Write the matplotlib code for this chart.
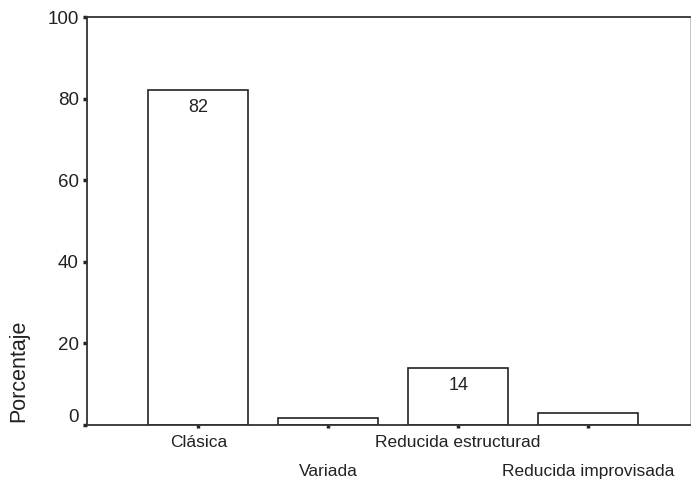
import matplotlib.pyplot as plt
import matplotlib.transforms as mtransforms
import numpy as np

categories = ['Clásica', 'Variada', 'Reducida estructurad', 'Reducida improvisada']
values = [82, 1.6, 14, 3]
shown_labels = ['82', '', '14', '']
yticks = [0, 20, 40, 60, 80, 100]

plt.rcParams['font.family'] = ['Liberation Sans', 'DejaVu Sans']

fig = plt.figure(figsize=(6.92, 4.79), dpi=100)
ax = fig.add_axes([87 / 692, 1 - 425 / 479, (690 - 87) / 692, (425 - 17) / 479])

x = np.arange(len(categories))
bars = ax.bar(x, values, width=0.77, color='white', edgecolor='#222222', linewidth=1.2)

for b, lab in zip(bars, shown_labels):
    if lab:
        ax.text(b.get_x() + b.get_width() / 2, b.get_height() - 4.2, lab,
                ha='center', va='center', fontsize=13, color='#222222')

ax.set_xlim(-0.858, 3.785)
ax.set_ylim(0, 100)
ax.set_yticks(yticks)
ax.set_xticks(x)
ax.set_xticklabels([])
for i, c in enumerate(categories):
    off = 4.2 if i % 2 == 0 else 11.3
    ax.text(i, -off, c, ha='center', va='center', fontsize=12.5,
            color='#222222', clip_on=False)

ax.tick_params(axis='y', direction='out', length=3, width=2.5, labelsize=13.5,
               colors='#222222', pad=3)
ax.tick_params(axis='x', direction='out', length=2, width=2.5, colors='#222222')
# the zero label sits a little above its tick in the original
zero_lab = ax.get_yticklabels()[0]
zero_lab.set_transform(zero_lab.get_transform() +
                       mtransforms.ScaledTranslation(0, 9 / 100, fig.dpi_scale_trans))

for s in ['left', 'bottom', 'top']:
    ax.spines[s].set_linewidth(1.3)
    ax.spines[s].set_color('#333333')
ax.spines['right'].set_linewidth(0.6)
ax.spines['right'].set_color('#bbbbbb')

fig.text(19 / 692, 1 - 371 / 479, 'Porcentaje', rotation=90, ha='center', va='center',
         fontsize=15.5, color='#222222')

fig.savefig('out.png', dpi=100)
